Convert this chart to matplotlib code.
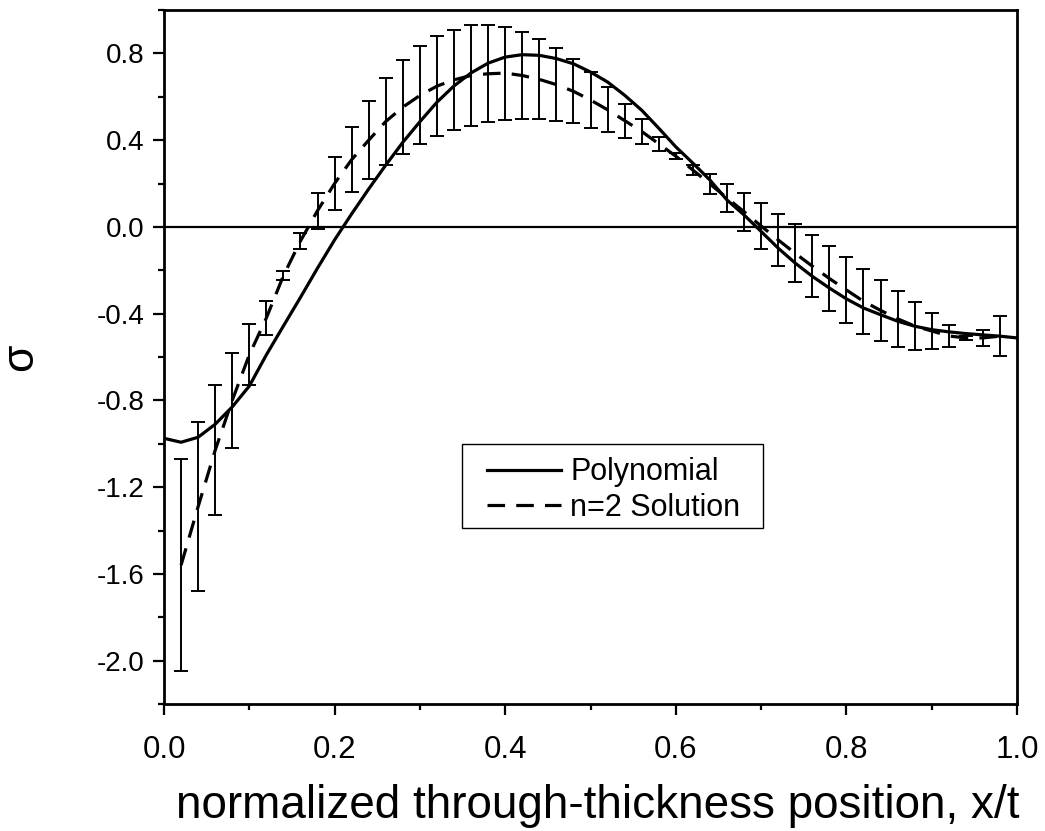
import matplotlib
matplotlib.use("Agg")
import matplotlib.pyplot as plt
import numpy as np
from matplotlib.ticker import MultipleLocator
from matplotlib.patches import Rectangle

plt.rcParams['font.family'] = ['Liberation Sans', 'DejaVu Sans']

# polynomial fit, x/t = 0.00 ... 1.00
poly_x = [0.00, 0.02, 0.04, 0.06, 0.08, 0.10, 0.12, 0.14, 0.16, 0.18,
          0.20, 0.22, 0.24, 0.26, 0.28, 0.30, 0.32, 0.34, 0.36, 0.38,
          0.40, 0.42, 0.44, 0.46, 0.48, 0.50, 0.52, 0.54, 0.56, 0.58,
          0.60, 0.62, 0.64, 0.66, 0.68, 0.70, 0.72, 0.74, 0.76, 0.78,
          0.80, 0.82, 0.84, 0.86, 0.88, 0.90, 0.92, 0.94, 0.96, 0.98, 1.00]
poly_y = [-0.975, -0.993, -0.97, -0.91, -0.83, -0.734, -0.59, -0.457, -0.325, -0.19,
          -0.06, 0.06, 0.175, 0.285, 0.39, 0.485, 0.575, 0.65, 0.71, 0.755,
          0.783, 0.794, 0.791, 0.776, 0.752, 0.714, 0.668, 0.607, 0.538, 0.455,
          0.369, 0.294, 0.216, 0.124, 0.055, -0.021, -0.098, -0.167, -0.228, -0.282,
          -0.332, -0.374, -0.405, -0.435, -0.458, -0.474, -0.484, -0.492, -0.498, -0.504, -0.512]

# n=2 solution with error bars, x/t = 0.02 ... 0.98
sol_x = [0.02, 0.04, 0.06, 0.08, 0.10, 0.12, 0.14, 0.16, 0.18, 0.20,
         0.22, 0.24, 0.26, 0.28, 0.30, 0.32, 0.34, 0.36, 0.38, 0.40,
         0.42, 0.44, 0.46, 0.48, 0.50, 0.52, 0.54, 0.56, 0.58, 0.60,
         0.62, 0.64, 0.66, 0.68, 0.70, 0.72, 0.74, 0.76, 0.78, 0.80,
         0.82, 0.84, 0.86, 0.88, 0.90, 0.92, 0.94, 0.96, 0.98]
sol_y = [-1.56, -1.29, -1.03, -0.80, -0.59, -0.42, -0.225, -0.065, 0.075, 0.20,
         0.31, 0.40, 0.486, 0.552, 0.606, 0.649, 0.678, 0.698, 0.706, 0.709,
         0.698, 0.68, 0.656, 0.625, 0.585, 0.54, 0.49, 0.44, 0.383, 0.326,
         0.262, 0.198, 0.133, 0.07, 0.004, -0.06, -0.122, -0.181, -0.238, -0.291,
         -0.343, -0.385, -0.424, -0.457, -0.48, -0.503, -0.512, -0.512, -0.504]
sol_err = [0.49, 0.39, 0.30, 0.22, 0.14, 0.077, 0.022, 0.038, 0.083, 0.12,
           0.15, 0.18, 0.20, 0.216, 0.226, 0.231, 0.232, 0.232, 0.224, 0.214,
           0.20, 0.184, 0.167, 0.148, 0.127, 0.104, 0.078, 0.056, 0.032, 0.015,
           0.023, 0.046, 0.066, 0.087, 0.105, 0.121, 0.134, 0.144, 0.151, 0.153,
           0.15, 0.142, 0.13, 0.11, 0.084, 0.052, 0.011, 0.035, 0.092]

xticks = [0.0, 0.2, 0.4, 0.6, 0.8, 1.0]
yticks = [-2.0, -1.6, -1.2, -0.8, -0.4, 0.0, 0.4, 0.8]

fig = plt.figure(figsize=(10.45, 8.31), dpi=100)
ax = fig.add_axes([164/1045, 1 - 704/831, 853/1045, 694/831])

ax.axhline(0, color='black', lw=1.6, zorder=1)
ax.plot(poly_x, poly_y, color='black', lw=2.3, label='Polynomial', zorder=3)
ax.plot(sol_x, sol_y, color='black', lw=2.3, dashes=(5.5, 3.5),
        label='n=2 Solution', zorder=3)
ax.errorbar(sol_x, sol_y, yerr=sol_err, fmt='none', ecolor='black',
            elinewidth=1.4, capsize=5, capthick=1.4, zorder=2)

ax.set_xlim(0, 1.0)
ax.set_ylim(-2.2, 1.0)
ax.set_xticks(xticks)
ax.set_xticklabels([f'{v:.1f}' for v in xticks])
ax.set_yticks(yticks)
ax.set_yticklabels([f'{v:.1f}' for v in yticks])
ax.xaxis.set_minor_locator(MultipleLocator(0.1))
ax.yaxis.set_minor_locator(MultipleLocator(0.2))

ax.tick_params(which='major', direction='out', length=8, width=1.6,
               labelsize=20, pad=6)
ax.tick_params(which='minor', direction='out', length=4.5, width=1.6)
ax.tick_params(axis='x', which='major', pad=14, labelsize=22.5)
for s in ax.spines.values():
    s.set_linewidth(2)

ax.set_xlabel('normalized through-thickness position, x/t', fontsize=33,
              labelpad=14)
ax.xaxis.label.set_x(0.508)
ax.set_ylabel('σ', fontsize=32, labelpad=40)

# legend without its own frame; the box is drawn separately to match
leg = ax.legend(loc='center left', bbox_to_anchor=(0.3787, 0.3084),
                borderaxespad=0, borderpad=0, fontsize=22, handlelength=2.42,
                handletextpad=0.3, frameon=False, labelspacing=0.18)
ax.add_patch(Rectangle((0.3494, 0.2536), 0.3529, 0.121, transform=ax.transAxes,
                       fill=False, edgecolor='black', lw=1.0, zorder=5))

fig.savefig('out.png', dpi=100)
